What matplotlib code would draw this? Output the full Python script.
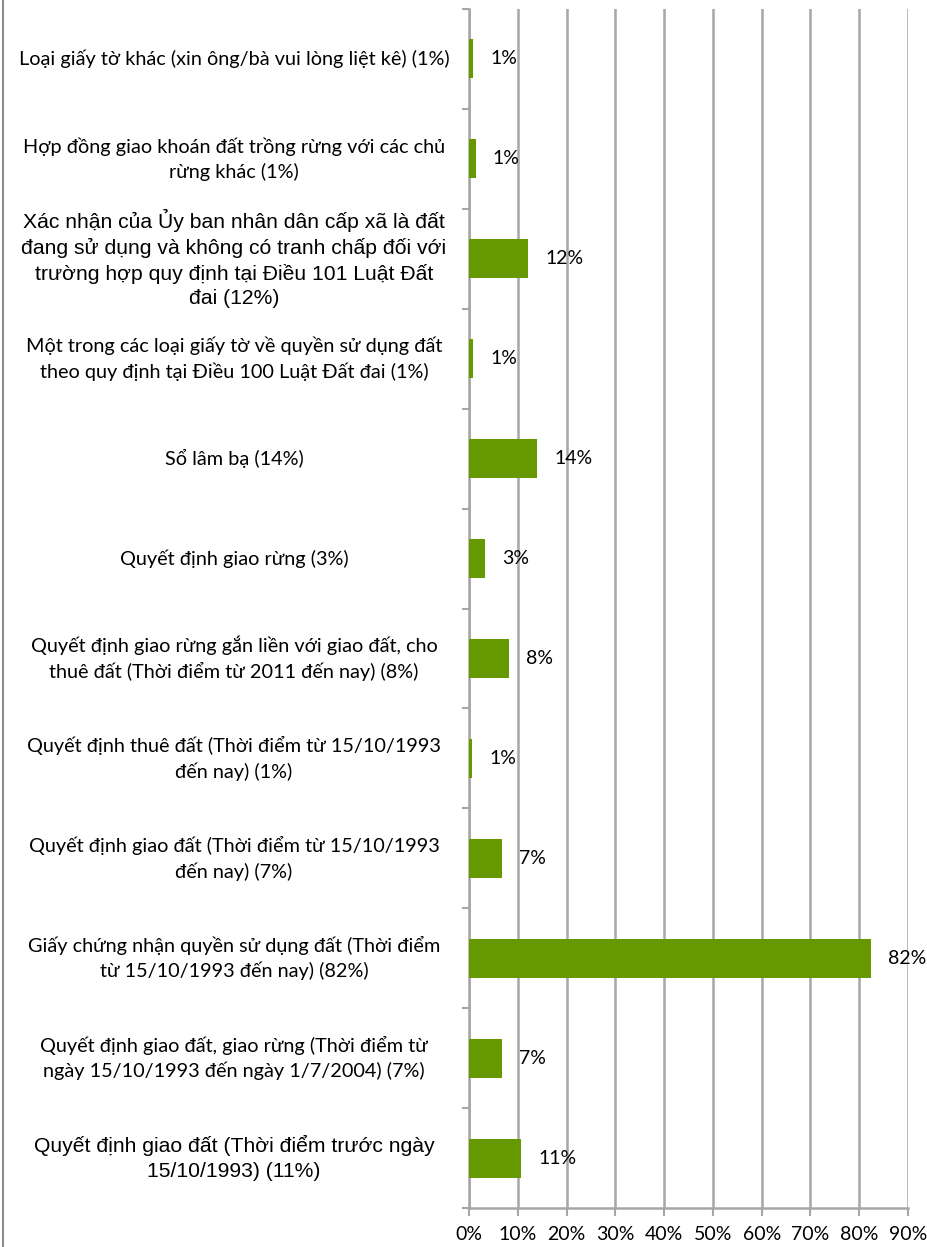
import matplotlib
matplotlib.use("Agg")
import matplotlib.pyplot as plt
import matplotlib.transforms as mtransforms

# categories from top to bottom, as in the picture
labels = [
    "Loại giấy tờ khác (xin ông/bà vui lòng liệt kê) (1%)",
    "Hợp đồng giao khoán đất trồng rừng với các chủ\nrừng khác (1%)",
    "Xác nhận của Ủy ban nhân dân cấp xã là đất\nđang sử dụng và không có tranh chấp đối với\ntrường hợp quy định tại Điều 101 Luật Đất\nđai (12%)",
    "Một trong các loại giấy tờ về quyền sử dụng đất\ntheo quy định tại Điều 100 Luật Đất đai (1%)",
    "Sổ lâm bạ (14%)",
    "Quyết định giao rừng (3%)",
    "Quyết định giao rừng gắn liền với giao đất, cho\nthuê đất (Thời điểm từ 2011 đến nay) (8%)",
    "Quyết định thuê đất (Thời điểm từ 15/10/1993\nđến nay) (1%)",
    "Quyết định giao đất (Thời điểm từ 15/10/1993\nđến nay) (7%)",
    "Giấy chứng nhận quyền sử dụng đất (Thời điểm\ntừ 15/10/1993 đến nay) (82%)",
    "Quyết định giao đất, giao rừng (Thời điểm từ\nngày 15/10/1993 đến ngày 1/7/2004) (7%)",
    "Quyết định giao đất (Thời điểm trước ngày\n15/10/1993) (11%)",
]
values = [0.9, 1.4, 12.1, 0.9, 14.0, 3.3, 8.1, 0.7, 6.8, 82.4, 6.8, 10.7]
value_text = ["1%", "1%", "12%", "1%", "14%", "3%", "8%", "1%", "7%", "82%", "7%", "11%"]
arial_rows = [2, 11]  # these two labels use an Arial-like face
xticks = list(range(0, 100, 10))

body_font = ["Lato", "Open Sans", "DejaVu Sans"]
arial_font = ["Liberation Sans", "DejaVu Sans"]

W, H = 927, 1247
fig = plt.figure(figsize=(W / 100, H / 100), dpi=100)
ax = fig.add_axes([469 / W, 1 - 1208 / H, (908 - 469) / W, (1208 - 9) / H])

n = len(labels)
ypos = list(range(n))
ax.barh(ypos, values, height=0.39, color="#669900", zorder=3)
ax.set_ylim(n - 0.5, -0.5)
ax.set_xlim(0, 90)

# value labels
for y, v, t in zip(ypos, values, value_text):
    ax.annotate(t, (v, y), xytext=(17, 0), textcoords="offset pixels",
                ha="left", va="center", fontsize=14, family=body_font,
                color="black", zorder=4)

# category labels, centred in the left margin
trans = mtransforms.blended_transform_factory(fig.transFigure, ax.transData)
for i, lab in enumerate(labels):
    if i in arial_rows:
        ax.text(234 / W, i, lab, transform=trans, ha="center", va="center",
                multialignment="center", fontsize=15.2, family=arial_font,
                linespacing=1.36)
    else:
        ax.text(234 / W, i, lab, transform=trans, ha="center", va="center",
                multialignment="center", fontsize=14.3, family=body_font,
                linespacing=1.45)

# axes styling
grid_c = "#A6A6A6"
ax.set_xticks(xticks)
ax.set_xticklabels([f"{t}%" for t in xticks], fontsize=14, family=body_font)
ax.xaxis.grid(True, color=grid_c, linewidth=1.8, zorder=0)
ax.set_yticks([i - 0.5 for i in range(n + 1)])
ax.set_yticklabels([])
ax.tick_params(axis="y", length=5, width=1.5, color=grid_c, direction="out")
ax.tick_params(axis="x", length=6, width=1.5, color=grid_c, direction="out", pad=7)
for s in ["top", "right"]:
    ax.spines[s].set_visible(False)
ax.spines["left"].set_color(grid_c)
ax.spines["left"].set_linewidth(1.8)
ax.spines["bottom"].set_color(grid_c)
ax.spines["bottom"].set_linewidth(1.8)

# thin frame line on the left edge of the picture
fig.add_artist(plt.Line2D([3 / W, 3 / W], [0, 1], color="#8C8C8C",
                          linewidth=1.5, transform=fig.transFigure))

fig.savefig("out.png", dpi=100)
